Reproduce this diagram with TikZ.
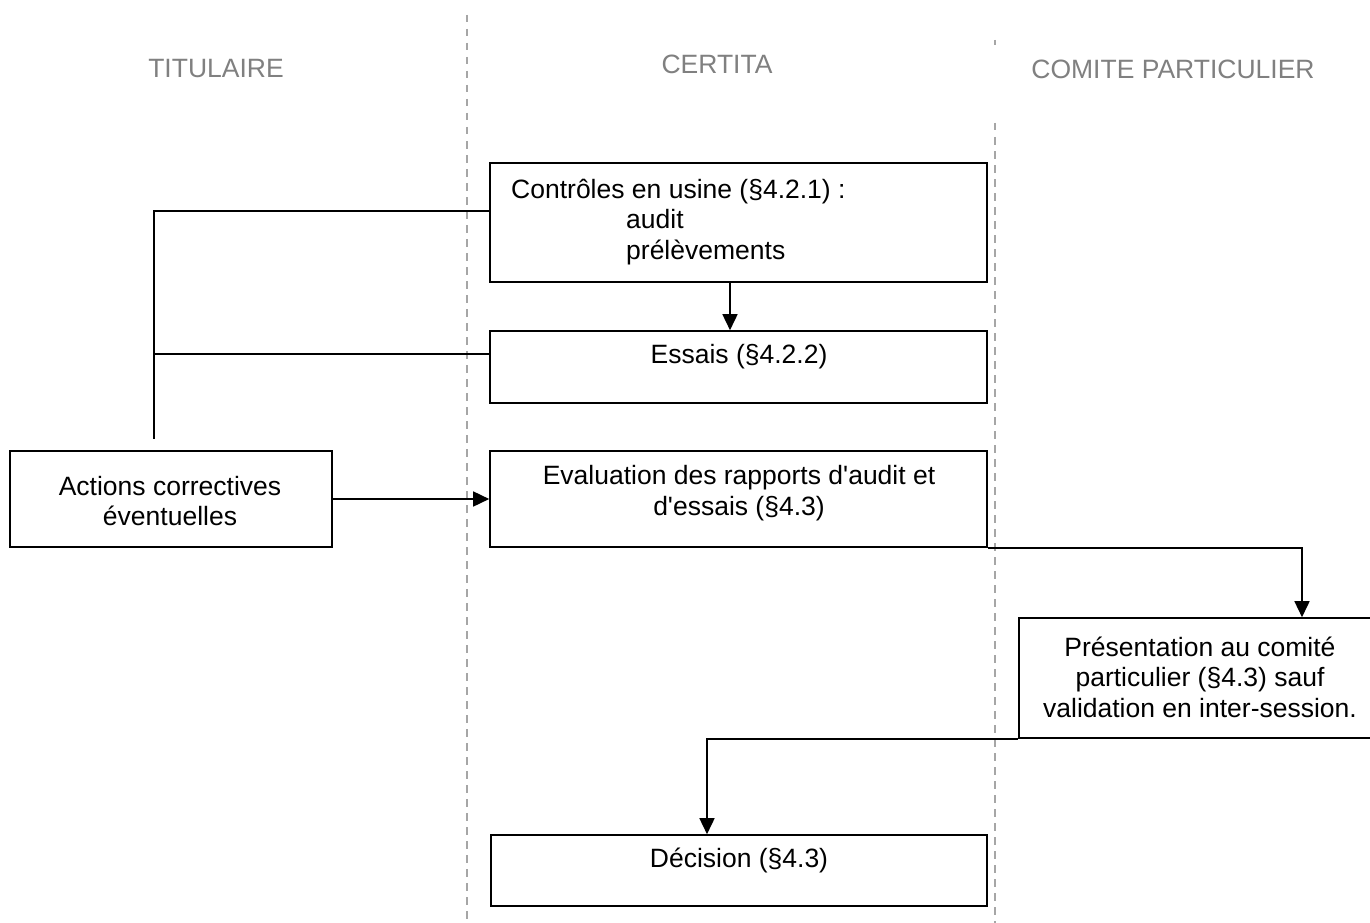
\documentclass[tikz,border=0pt]{standalone}
\usepackage{fontspec}
\setmainfont{Liberation Sans}
\newfontfamily\arialf{Liberation Sans}
\usetikzlibrary{arrows.meta}
\definecolor{hdrgray}{HTML}{808080}
\definecolor{lanegray}{HTML}{A6A6A6}
\begin{document}
\begin{tikzpicture}[x=1pt,y=-1pt,
  box/.style={draw=black, line width=1.6pt, inner sep=0pt, fill=white},
  thickbox/.style={box, line width=2.6pt},
  txt/.style={inner sep=0pt, font=\arialf\fontsize{26.5}{30.5}\selectfont, align=center},
  hdr/.style={inner sep=0pt, font=\arialf\fontsize{26.5}{30.5}\selectfont, text=hdrgray},
  lane/.style={draw=lanegray, line width=1.6pt, dash pattern=on 7.5pt off 6.5pt},
  conn/.style={draw=black, line width=1.6pt},
  arr/.style={conn, -{Triangle[length=16pt,width=15pt]}}]
\useasboundingbox (0,0) rectangle (1370,923);
\fill[white] (0,0) rectangle (1370,923);

% swimlane separators
\draw[lane] (467,15) -- (467,923);
\draw[lane] (995,40) -- (995,45);
\draw[lane] (995,123) -- (995,923);

% headers
\node[hdr] (h1) at (216,69) {TITULAIRE};
\node[hdr] (h2) at (717,64) {CERTITA};
\node[hdr] (h3) at (1173,69) {COMITE PARTICULIER};

% boxes
\node[box, minimum width=497pt, minimum height=119pt] (c1) at (738.5,222.5) {};
\node[txt, anchor=west, align=left] (c1t) at (511,222) {Contrôles en usine (§4.2.1) :\\\hspace*{115pt}audit\\\hspace*{115pt}prélèvements};

\node[box, minimum width=497pt, minimum height=72pt] (ess) at (738.5,367) {};
\node[txt] (esst) at (739,357) {Essais (§4.2.2)};

\node[box, minimum width=497pt, minimum height=96pt] (eval) at (738.5,499) {};
\node[txt] (evalt) at (739,493) {Evaluation des rapports d'audit et\\d'essais (§4.3)};

\node[thickbox, minimum width=322pt, minimum height=96pt] (act) at (171,499) {};
\node[txt] (actt) at (170,501) {Actions correctives\\éventuelles};

\node[box, minimum width=362pt, minimum height=120pt] (pres) at (1200,678) {};
\node[txt] (prest) at (1200,677) {Présentation au comité\\particulier (§4.3) sauf\\validation en inter-session.};

\node[box, minimum width=496pt, minimum height=71pt] (dec) at (739,870.5) {};
\node[txt] (dect) at (739,860) {Décision (§4.3)};

% helper coordinates
\coordinate (j1) at (154,211);
\coordinate (j2) at (154,354);
\coordinate (j3) at (154,439);
\coordinate (xa) at (730,0);
\coordinate (xb) at (1302,0);
\coordinate (xc) at (707,0);

% connectors
\draw[conn] (j1 -| c1.west) -- (j1) -- (j3);
\draw[conn] (j2 -| ess.west) -- (j2);
\draw[arr] (c1.south -| xa) -- (ess.north -| xa);
\draw[arr] (act.east) -- (eval.west);
\draw[arr] (eval.south east) -| (xb |- pres.north);
\draw[arr] (pres.south west) -| (xc |- dec.north);
\end{tikzpicture}
\end{document}
